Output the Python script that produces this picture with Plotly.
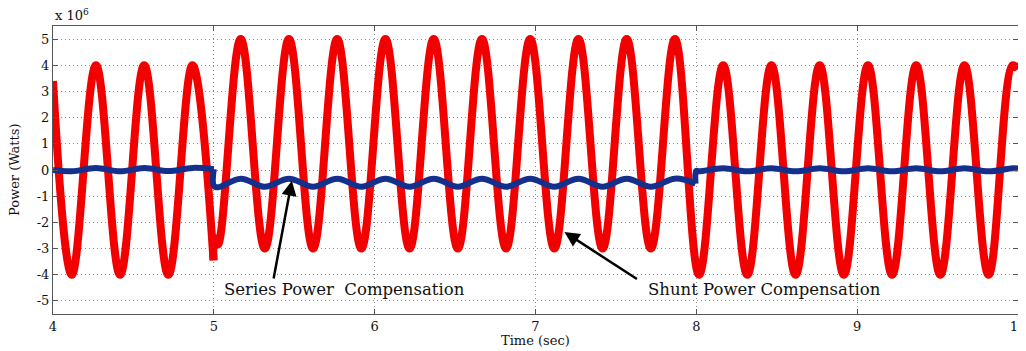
import plotly.graph_objects as go

# ---- data (values in units of 1e6 W) ----
# Shunt power (red) — extrema and break points, segment 4..5 s
red_a_t = [4.0, 4.117, 4.267, 4.417, 4.567, 4.717, 4.867, 4.998]
red_a_v = [3.4, -4.0, 4.0, -4.0, 4.0, -4.0, 4.0, -3.45]
# segment 5..10 s
red_b_t = [4.998, 5.003, 5.025, 5.167, 5.317, 5.467, 5.617, 5.767, 5.917, 6.067, 6.217,
           6.367, 6.517, 6.667, 6.817, 6.967, 7.117, 7.267, 7.417, 7.567, 7.717,
           7.867, 8.017, 8.167, 8.317, 8.467, 8.617, 8.767, 8.917, 9.067, 9.217,
           9.367, 9.517, 9.667, 9.817, 9.967, 10.0]
red_b_v = [-3.45, -2.6, -2.85, 5.0, -3.0, 5.0, -3.0, 5.0, -3.0, 5.0, -3.0,
           5.0, -3.0, 5.0, -3.0, 5.0, -3.0, 5.0, -3.0, 5.0, -3.0,
           5.0, -4.0, 4.0, -4.0, 4.0, -4.0, 4.0, -4.0, 4.0, -4.0,
           4.0, -4.0, 4.0, -4.0, 4.0, 3.85]

# Series power (blue)
blue_a_t = [4.0, 4.117, 4.267, 4.417, 4.567, 4.717, 4.867, 5.0]
blue_a_v = [0.0, -0.05, 0.08, -0.05, 0.08, -0.04, 0.08, 0.03]
blue_b_t = [5.0, 5.0, 5.025, 5.167, 5.317, 5.467, 5.617, 5.767, 5.917, 6.067, 6.217,
            6.367, 6.517, 6.667, 6.817, 6.967, 7.117, 7.267, 7.417, 7.567, 7.717,
            7.867, 7.995]
blue_b_v = [0.03, -0.6, -0.66, -0.33, -0.64, -0.33, -0.64, -0.33, -0.64, -0.33, -0.64,
            -0.33, -0.64, -0.33, -0.64, -0.33, -0.64, -0.33, -0.64, -0.33, -0.64,
            -0.33, -0.52]
blue_c_t = [7.995, 8.0, 8.017, 8.167, 8.317, 8.467, 8.617, 8.767, 8.917, 9.067, 9.217,
            9.367, 9.517, 9.667, 9.817, 9.967, 10.0]
blue_c_v = [-0.52, -0.03, -0.05, 0.07, -0.05, 0.07, -0.05, 0.07, -0.05, 0.07, -0.05,
            0.07, -0.05, 0.07, -0.05, 0.07, 0.06]

x_ticks = [4, 5, 6, 7, 8, 9, 10]
y_ticks = [-5, -4, -3, -2, -1, 0, 1, 2, 3, 4, 5]

RED = "#f20000"
BLUE = "#152f8c"
FONT = "DejaVu Serif"
TXT = "#111111"

fig = go.Figure()
for t, v in [(red_a_t, red_a_v), (red_b_t, red_b_v)]:
    fig.add_trace(go.Scatter(x=t, y=v, mode="lines",
                             line=dict(color=RED, width=8, shape="spline", smoothing=1.1),
                             showlegend=False, hoverinfo="skip"))
for t, v in [(blue_a_t, blue_a_v), (blue_b_t, blue_b_v), (blue_c_t, blue_c_v)]:
    fig.add_trace(go.Scatter(x=t, y=v, mode="lines",
                             line=dict(color=BLUE, width=6, shape="spline", smoothing=1.1),
                             showlegend=False, hoverinfo="skip"))

axis_common = dict(
    showline=True, linecolor="#555555", linewidth=1, mirror="ticks",
    ticks="inside", ticklen=5, tickcolor="#555555",
    showgrid=True, gridcolor="#8a8a8a", griddash="1px,3px", gridwidth=1,
    zeroline=False, tickfont=dict(family=FONT, size=13, color=TXT),
    automargin=False, ticklabeloverflow="allow",
)
fig.update_xaxes(range=[4, 10], tickvals=x_ticks, ticktext=[str(v) for v in x_ticks],
                 **axis_common)
fig.update_yaxes(range=[-5.5, 5.5], tickvals=y_ticks, ticktext=[str(v) for v in y_ticks],
                 **axis_common)

# axis titles
fig.add_annotation(x=0.5, y=0, xref="paper", yref="paper", xanchor="center", yanchor="top",
                   yshift=-17, text="Time (sec)", showarrow=False,
                   font=dict(family=FONT, size=13, color=TXT))
fig.add_annotation(x=0, y=0.5, xref="paper", yref="paper", xanchor="center", yanchor="middle",
                   xshift=-39, textangle=-90, text="Power (Watts)", showarrow=False,
                   font=dict(family=FONT, size=13, color=TXT))

# arrows
fig.add_annotation(x=5.485, y=-0.41, ax=5.37, ay=-4.2, axref="x", ayref="y",
                   xref="x", yref="y", text="", showarrow=True, arrowhead=2,
                   arrowsize=1.2, arrowwidth=2.5, arrowcolor="#000000")
fig.add_annotation(x=7.18, y=-2.37, ax=7.64, ay=-4.2, axref="x", ayref="y",
                   xref="x", yref="y", text="", showarrow=True, arrowhead=2,
                   arrowsize=1.2, arrowwidth=2.5, arrowcolor="#000000")
# labels
fig.add_annotation(x=5.05, y=-4.57, xref="x", yref="y", xanchor="left",
                   text="Series Power  Compensation", showarrow=False,
                   font=dict(family=FONT, size=16.5, color=TXT))
fig.add_annotation(x=7.69, y=-4.57, xref="x", yref="y", xanchor="left",
                   text="Shunt Power Compensation", showarrow=False,
                   font=dict(family=FONT, size=16.5, color=TXT))
fig.add_annotation(x=0, y=1, xref="paper", yref="paper", xanchor="left", yanchor="bottom",
                   yshift=1, text="x 10<sup>6</sup>", showarrow=False,
                   font=dict(family=FONT, size=13, color=TXT))

# page body adds an 8px offset, so the figure is sized to the remaining window
fig.update_layout(
    width=1018, height=343,
    margin=dict(l=45, r=8, t=18, b=37),
    paper_bgcolor="white", plot_bgcolor="white",
)
fig.write_html("out.html")
